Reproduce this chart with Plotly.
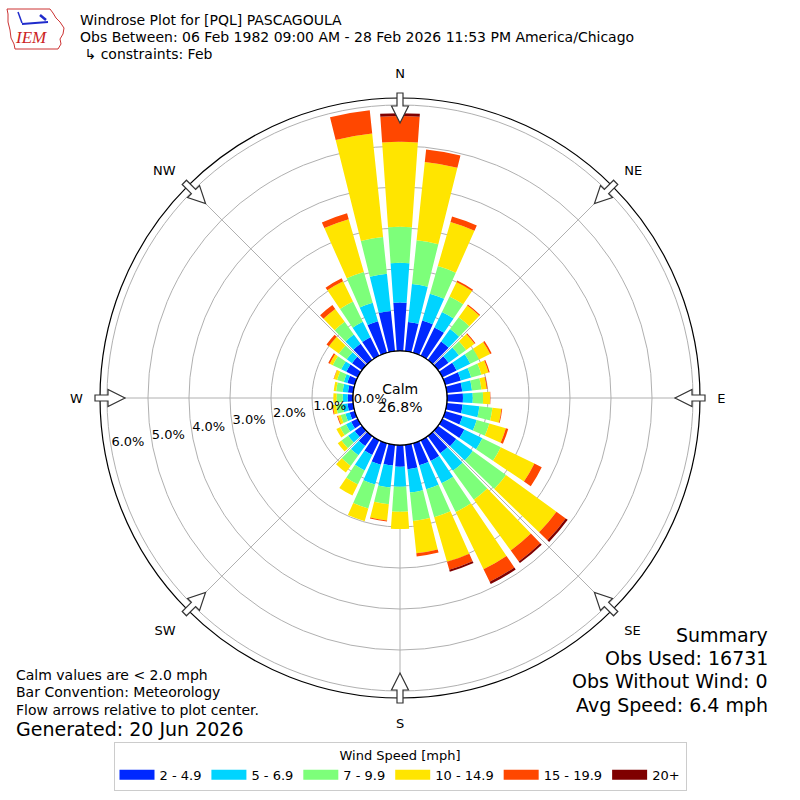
import numpy as np
import plotly.graph_objects as go

# ---------------- data (percent of observations) ----------------
directions = [0, 10, 20, 30, 40, 50, 60, 70, 80, 90, 100, 110, 120, 130, 140, 150, 160, 170,
              180, 190, 200, 210, 220, 230, 240, 250, 260, 270, 280, 290, 300, 310, 320, 330, 340, 350]
speed_bins = ["2 - 4.9", "5 - 6.9", "7 - 9.9", "10 - 14.9", "15 - 19.9", "20+"]
bin_colors = ["#0028FF", "#00D4FF", "#7DFF7A", "#FFE500", "#FF4700", "#7F0000"]

pct_2_5 = [1.18, 0.72, 0.82, 0.77, 0.56, 0.32, 0.39, 0.40, 0.38, 0.39, 0.39, 0.44, 0.60, 0.55, 0.52, 0.56, 0.56, 0.60,
           0.53, 0.51, 0.55, 0.40, 0.30, 0.22, 0.18, 0.13, 0.14, 0.13, 0.13, 0.19, 0.31, 0.30, 0.49, 0.50, 0.80, 0.99]
pct_5_7 = [0.97, 0.93, 0.68, 0.42, 0.37, 0.31, 0.37, 0.26, 0.24, 0.24, 0.41, 0.36, 0.49, 0.50, 0.53, 0.61, 0.61, 0.57,
           0.49, 0.54, 0.50, 0.42, 0.28, 0.20, 0.14, 0.11, 0.12, 0.12, 0.13, 0.09, 0.14, 0.16, 0.28, 0.42, 0.47, 0.91]
pct_7_10 = [0.88, 1.07, 0.70, 0.42, 0.36, 0.22, 0.24, 0.26, 0.23, 0.25, 0.32, 0.32, 0.50, 1.00, 0.87, 0.78, 0.71, 0.70,
            0.61, 0.41, 0.61, 0.38, 0.32, 0.20, 0.16, 0.12, 0.16, 0.15, 0.16, 0.17, 0.23, 0.24, 0.38, 0.55, 0.78, 0.90]
pct_10_15 = [2.07, 1.92, 1.12, 0.39, 0.35, 0.25, 0.30, 0.18, 0.13, 0.17, 0.22, 0.42, 0.91, 1.52, 1.53, 1.55, 1.13, 0.79,
             0.42, 0.40, 0.32, 0.30, 0.20, 0.11, 0.10, 0.07, 0.08, 0.08, 0.06, 0.08, 0.08, 0.30, 0.39, 0.55, 1.34, 2.54]
pct_15_20 = [0.63, 0.31, 0.14, 0.04, 0.03, 0.03, 0.04, 0.03, 0.02, 0.01, 0.02, 0.06, 0.20, 0.28, 0.33, 0.34, 0.20, 0.08,
             0.00, 0.02, 0.00, 0.00, 0.00, 0.00, 0.00, 0.02, 0.02, 0.00, 0.00, 0.01, 0.04, 0.07, 0.12, 0.08, 0.15, 0.57]
pct_20p = [0.07, 0.00, 0.00, 0.00, 0.00, 0.00, 0.00, 0.00, 0.00, 0.00, 0.00, 0.00, 0.00, 0.06, 0.05, 0.06, 0.05, 0.00,
           0.00, 0.00, 0.00, 0.00, 0.00, 0.00, 0.00, 0.00, 0.00, 0.00, 0.00, 0.00, 0.00, 0.00, 0.00, 0.00, 0.00, 0.00]
series = [pct_2_5, pct_5_7, pct_7_10, pct_10_15, pct_15_20, pct_20p]

ring_ticks = [0, 1, 2, 3, 4, 5, 6]
ring_labels = ["0.0%", "1.0%", "2.0%", "3.0%", "4.0%", "5.0%", "6.0%"]
compass_angles = [0, 45, 90, 135, 180, 225, 270, 315]
compass_labels = ["N", "NE", "E", "SE", "S", "SW", "W", "NW"]
calm_pct = "26.8%"

W = H = 800
CX, CY, R = 400, 398, 300          # polar centre / radius in pixels
FONT = "DejaVu Sans"

fig = go.Figure()
for vals, name, col in zip(series, speed_bins, bin_colors):
    fig.add_trace(go.Barpolar(r=vals, theta=directions, width=8, name=name,
                              marker=dict(color=col, line=dict(width=0)),
                              showlegend=False, hoverinfo="skip"))

# calm circle border
circ = np.linspace(0, 360, 361)
fig.add_trace(go.Scatterpolar(r=[0] * len(circ), theta=circ, mode="lines",
                              line=dict(color="black", width=1.3), showlegend=False, hoverinfo="skip"))
# ring labels
fig.add_trace(go.Scatterpolar(r=ring_ticks, theta=[260] * len(ring_ticks), mode="text",
                              text=ring_labels, textposition="top right",
                              textfont=dict(family=FONT, size=13, color="black"),
                              showlegend=False, hoverinfo="skip", cliponaxis=False))
# legend entries
for name, col in zip(speed_bins, bin_colors):
    fig.add_trace(go.Scatterpolar(r=[None], theta=[None], mode="lines", name=name,
                                  line=dict(color=col, width=10), showlegend=True))

dom_x = [(CX - R) / W, (CX + R) / W]
dom_y = [1 - (CY + R) / H, 1 - (CY - R) / H]

fig.update_layout(
    width=W, height=H, margin=dict(l=0, r=0, t=0, b=0),
    paper_bgcolor="white", plot_bgcolor="white",
    font=dict(family=FONT, size=13, color="black"),
    polar=dict(
        domain=dict(x=dom_x, y=dom_y),
        bgcolor="white",
        hole=47 / 300,
        radialaxis=dict(range=[0, 6.17], tickvals=ring_ticks, showticklabels=False, ticks="",
                        showline=False, gridcolor="#b0b0b0", gridwidth=1, layer="above traces"),
        angularaxis=dict(direction="clockwise", rotation=90, tickvals=compass_angles,
                         ticktext=compass_labels, ticks="outside", ticklen=14,
                         tickcolor="rgba(0,0,0,0)", showline=True, linecolor="black", linewidth=1.2,
                         gridcolor="#b0b0b0", gridwidth=1, layer="above traces",
                         tickfont=dict(family=FONT, size=13)),
    ),
    legend=dict(orientation="h", x=0.5, xanchor="center", y=1 - 742 / H, yanchor="top",
                bgcolor="white", bordercolor="#cccccc", borderwidth=1,
                title=dict(text="Wind Speed [mph]", side="top center", font=dict(size=13)),
                font=dict(family=FONT, size=13), itemwidth=35, tracegroupgap=0),
)

# ---------------- flow arrows (decoration) ----------------
def arrow_path(bearing):
    b = np.radians(bearing)
    ux, uy = np.sin(b), -np.cos(b)
    px, py = np.cos(b), np.sin(b)
    outline = [(305, -3), (292, -3), (292, -8.5), (275, 0), (292, 8.5), (292, 3), (305, 3)]
    pts = []
    for rr, ww in outline:
        X = CX + rr * ux + ww * px
        Y = CY + rr * uy + ww * py
        pts.append((X / W, 1 - Y / H))
    return "M " + " L ".join(f"{x:.5f} {y:.5f}" for x, y in pts) + " Z"

shapes = []
for a in compass_angles:
    shapes.append(dict(type="path", xref="paper", yref="paper", path=arrow_path(a),
                       fillcolor="white", line=dict(color="#333333", width=1.2), layer="above"))

# IEM logo (approximate)
def px2paper(pts):
    return "M " + " L ".join(f"{x / W:.5f} {1 - y / H:.5f}" for x, y in pts) + " Z"

iowa = [(7, 9), (50, 9), (53, 13), (56, 18), (60, 22), (64, 28), (63, 34), (60, 39), (61, 44),
        (58, 49), (15, 49), (14, 44), (11, 38), (10, 30), (8, 22), (8, 14)]
shapes.append(dict(type="path", xref="paper", yref="paper", path=px2paper(iowa),
                   line=dict(color="#cc3333", width=1), fillcolor="rgba(0,0,0,0)"))
shapes.append(dict(type="line", xref="paper", yref="paper", x0=22 / W, y0=1 - 24 / H,
                   x1=48 / W, y1=1 - 22 / H, line=dict(color="#1f2bcc", width=2)))
shapes.append(dict(type="line", xref="paper", yref="paper", x0=40 / W, y0=1 - 15 / H,
                   x1=46 / W, y1=1 - 20 / H, line=dict(color="#1f2bcc", width=2.5)))
shapes.append(dict(type="line", xref="paper", yref="paper", x0=18 / W, y0=1 - 12 / H,
                   x1=22 / W, y1=1 - 23 / H, line=dict(color="#1f2bcc", width=1.5)))
fig.update_layout(shapes=shapes)

ann = []
def text(x, y, s, size=13, anchor="left", **kw):
    ann.append(dict(x=x / W, y=1 - y / H, xref="paper", yref="paper", text=s, showarrow=False,
                    xanchor=anchor, yanchor="middle", font=dict(family=FONT, size=size, color="black"), **kw))

text(31, 38, "<i>IEM</i>", size=16, anchor="center")
ann[-1]["font"] = dict(family="Liberation Serif", size=17, color="#cc2222")
text(78, 20, "Windrose Plot for [PQL] PASCAGOULA", size=14)
text(78, 37, "Obs Between: 06 Feb 1982 09:00 AM - 28 Feb 2026 11:53 PM America/Chicago", size=14)
text(78, 54, " ↳ constraints: Feb", size=14)
text(14, 675, "Calm values are < 2.0 mph", size=14)
text(14, 692, "Bar Convention: Meteorology", size=14)
text(14, 710, "Flow arrows relative to plot center.", size=14)
text(14, 729, "Generated: 20 Jun 2026", size=19)
text(770, 635, "Summary", size=19, anchor="right")
text(770, 658, "Obs Used: 16731", size=19, anchor="right")
text(770, 681, "Obs Without Wind: 0", size=19, anchor="right")
text(770, 705, "Avg Speed: 6.4 mph", size=19, anchor="right")
text(400, 398, "Calm<br>" + calm_pct, size=14, anchor="center")
fig.update_layout(annotations=ann)

fig.write_html("out.html", post_script="document.body.style.margin='0';",
               config={"displayModeBar": False})
